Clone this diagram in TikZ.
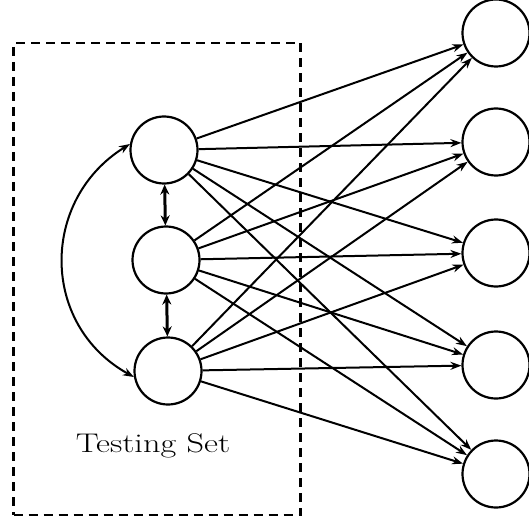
\documentclass[tikz,border=0pt]{standalone}
\usetikzlibrary{arrows.meta}
\begin{document}
\begin{tikzpicture}[x=1pt,y=-1pt,
  neuron/.style={circle,draw,line width=2.2pt,minimum size=67pt,inner sep=0pt},
  link/.style={line width=2pt,-{Stealth[length=11pt,width=8pt]}},
  dlink/.style={line width=3pt,{Stealth[length=10pt,width=9pt]}-{Stealth[length=10pt,width=9pt]}},
  curvelink/.style={line width=2pt,{Stealth[length=11pt,width=8pt]}-{Stealth[length=11pt,width=8pt]}},
  setbox/.style={draw,line width=2.4pt,dash pattern=on 9pt off 6pt}]
\useasboundingbox (0,0) rectangle (529,521);
\node[neuron] (L1) at (164,150) {};
\node[neuron] (L2) at (166,260) {};
\node[neuron] (L3) at (168,371) {};
\node[neuron] (R1) at (496,33) {};
\node[neuron] (R2) at (496,142) {};
\node[neuron] (R3) at (496,253) {};
\node[neuron] (R4) at (496,365) {};
\node[neuron] (R5) at (496,474) {};
\node[setbox,minimum width=287pt,minimum height=472pt,inner sep=0pt] (box) at (157,279) {};
\node[font=\fontsize{27}{30}\selectfont] (lbl) at (153,446) {\scalebox{1.27}[1]{Testing Set}};
\foreach \l in {L1,L2,L3}{
  \foreach \r in {R1,R2,R3,R4,R5}{
    \draw[link] (\l) -- (\r);
  }
}
\draw[dlink] (L1) -- (L2);
\draw[dlink] (L2) -- (L3);
\draw[curvelink] (L1.170) .. controls (40,200) and (40,325) .. (L3.190);
\end{tikzpicture}
\end{document}
